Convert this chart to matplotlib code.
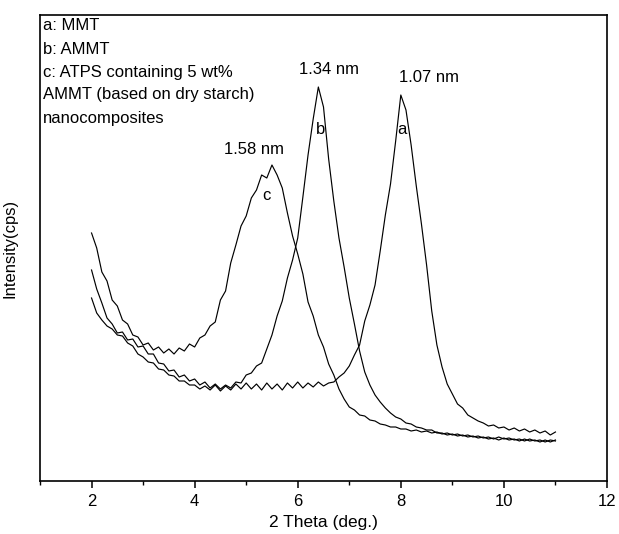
import numpy as np
import matplotlib.pyplot as plt
from matplotlib.ticker import MultipleLocator, NullLocator

plt.rcParams['font.family'] = ['Liberation Sans', 'DejaVu Sans']

# 2 theta grid (deg.)
two_theta = [2.0, 2.1, 2.2, 2.3, 2.4, 2.5, 2.6, 2.7, 2.8, 2.9,
             3.0, 3.1, 3.2, 3.3, 3.4, 3.5, 3.6, 3.7, 3.8, 3.9,
             4.0, 4.1, 4.2, 4.3, 4.4, 4.5, 4.6, 4.7, 4.8, 4.9,
             5.0, 5.1, 5.2, 5.3, 5.4, 5.5, 5.6, 5.7, 5.8, 5.9,
             6.0, 6.1, 6.2, 6.3, 6.4, 6.5, 6.6, 6.7, 6.8, 6.9,
             7.0, 7.1, 7.2, 7.3, 7.4, 7.5, 7.6, 7.7, 7.8, 7.9,
             8.0, 8.1, 8.2, 8.3, 8.4, 8.5, 8.6, 8.7, 8.8, 8.9,
             9.0, 9.1, 9.2, 9.3, 9.4, 9.5, 9.6, 9.7, 9.8, 9.9,
             10.0, 10.1, 10.2, 10.3, 10.4, 10.5, 10.6, 10.7, 10.8, 10.9,
             11.0]

# a: MMT
mmt = [183, 168, 161, 155, 152, 146, 145, 138, 135, 127,
       124, 119, 118, 112, 111, 106, 105, 100, 100, 96,
       96, 92, 95, 91, 96, 90, 95, 91, 97, 92,
       98, 92, 97, 91, 98, 92, 97, 91, 98, 93,
       99, 93, 98, 94, 99, 95, 98, 99, 104, 108,
       115, 126, 136, 160, 176, 196, 230, 266, 297, 340,
       386, 371, 336, 295, 257, 216, 170, 136, 114, 97,
       87, 77, 73, 66, 63, 60, 58, 55, 56, 53,
       54, 51, 53, 50, 52, 49, 51, 48, 50, 46,
       49]

# b: AMMT
ammt = [211, 192, 178, 163, 157, 148, 149, 141, 142, 134,
        135, 127, 127, 118, 117, 110, 111, 104, 106, 100,
        102, 96, 99, 93, 97, 92, 96, 93, 99, 98,
        106, 108, 115, 118, 132, 146, 165, 180, 203, 221,
        243, 284, 326, 362, 394, 374, 322, 280, 243, 214,
        183, 157, 130, 109, 96, 86, 79, 73, 68, 64,
        62, 58, 57, 54, 53, 51, 51, 48, 48, 46,
        47, 45, 46, 44, 45, 43, 44, 42, 43, 41,
        43, 41, 42, 40, 42, 40, 41, 39, 41, 39,
        41]

# c: ATPS with 5 wt% AMMT
atps = [248, 233, 209, 200, 181, 175, 161, 157, 146, 144,
        136, 138, 131, 134, 128, 132, 127, 133, 130, 137,
        134, 143, 146, 155, 159, 181, 190, 218, 236, 255,
        265, 283, 291, 306, 303, 316, 306, 293, 268, 245,
        227, 207, 179, 165, 146, 134, 117, 106, 92, 82,
        74, 71, 66, 65, 61, 60, 57, 56, 54, 54,
        52, 52, 50, 51, 49, 50, 48, 49, 47, 48,
        46, 47, 45, 46, 44, 45, 43, 44, 42, 44,
        42, 43, 41, 42, 40, 42, 40, 41, 39, 41,
        40]

legend_lines = ['a: MMT', 'b: AMMT', 'c: ATPS containing 5 wt%',
                'AMMT (based on dry starch)', 'nanocomposites']

fig = plt.figure(figsize=(6.19, 5.34), dpi=100)
ax = fig.add_axes([40/619, 53/534, 567/619, 466/534])

for y in (mmt, ammt, atps):
    ax.plot(two_theta, y, color='black', lw=0.85)

ax.set_xlim(1, 12)
ax.set_ylim(0, 466)
ax.xaxis.set_major_locator(MultipleLocator(2))
ax.xaxis.set_minor_locator(MultipleLocator(1))
ax.yaxis.set_major_locator(NullLocator())
ax.tick_params(axis='x', which='major', direction='out', length=5, width=1.1,
               labelsize=12, pad=4)
ax.tick_params(axis='x', which='minor', direction='out', length=3, width=1)
for s in ax.spines.values():
    s.set_linewidth(1.2)

ax.set_xlabel('2 Theta (deg.)', fontsize=12.5, labelpad=5)
ax.set_ylabel('Intensity(cps)', fontsize=12)
ax.yaxis.set_label_coords(-0.04, 0.5)

ys = [455, 431, 408, 386, 363]
for t, yy in zip(legend_lines, ys):
    ax.text(1.06, yy, t, fontsize=12, va='center', ha='left')

ax.text(6.60, 411, '1.34 nm', fontsize=12, ha='center', va='center')
ax.text(8.54, 404, '1.07 nm', fontsize=12, ha='center', va='center')
ax.text(5.15, 331, '1.58 nm', fontsize=12, ha='center', va='center')
ax.text(6.45, 351, 'b', fontsize=12, ha='center', va='center')
ax.text(8.02, 351, 'a', fontsize=12, ha='center', va='center')
ax.text(5.40, 285, 'c', fontsize=12, ha='center', va='center')

fig.savefig('out.png', dpi=100)
